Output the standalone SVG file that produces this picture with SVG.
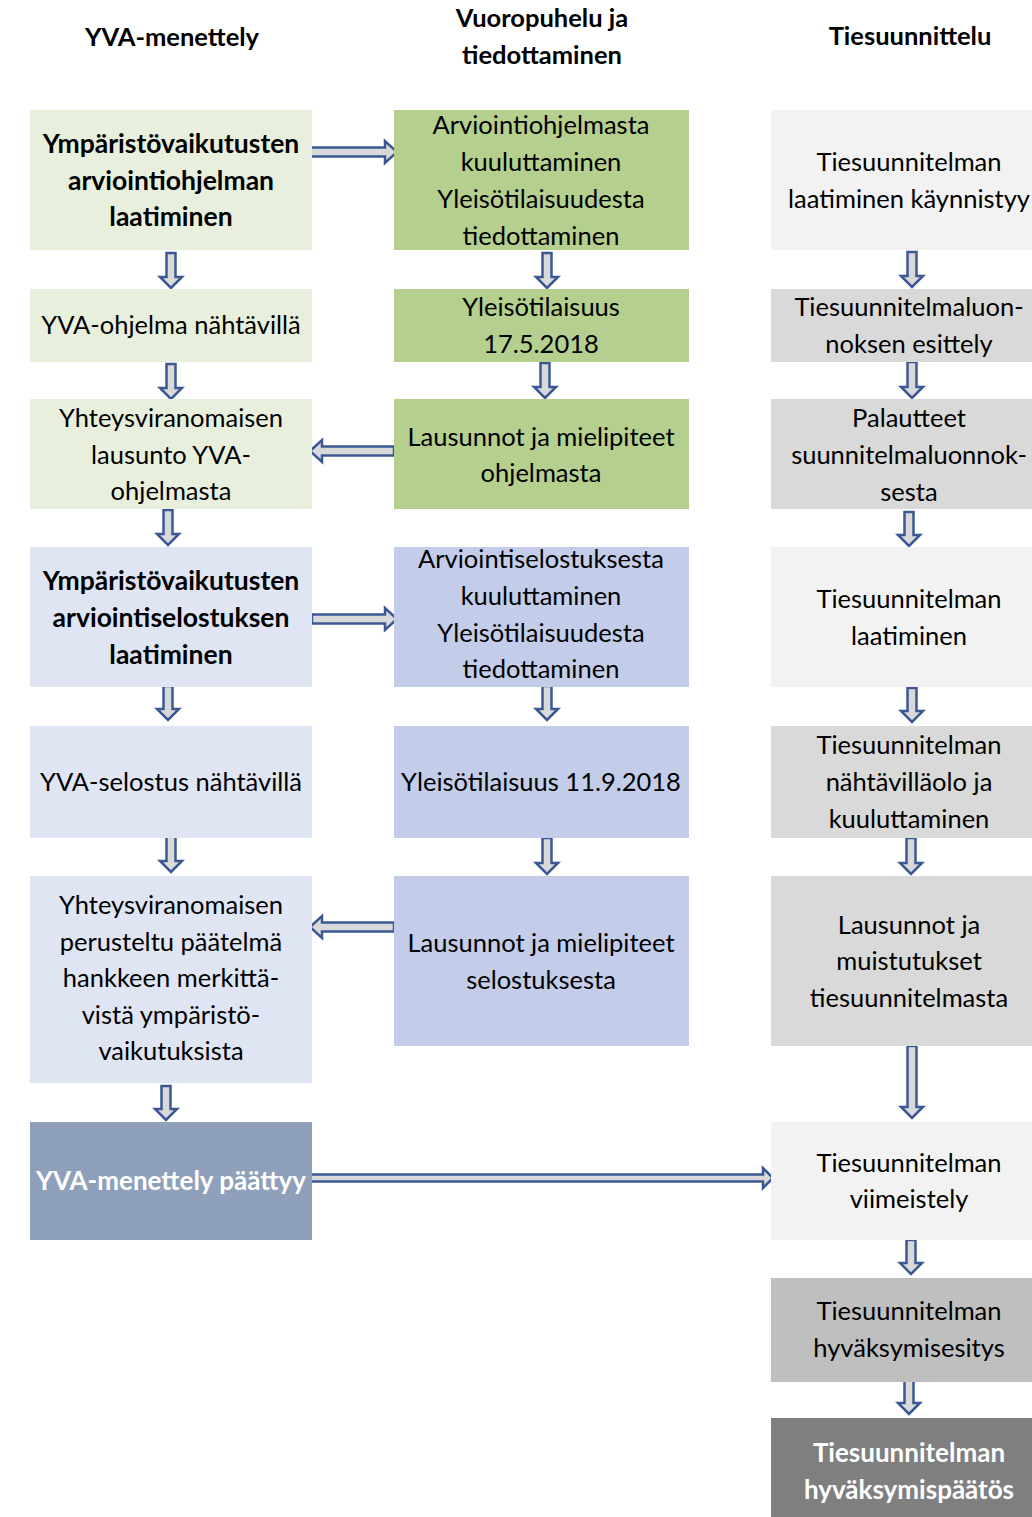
<svg xmlns="http://www.w3.org/2000/svg" width="1032" height="1517" viewBox="0 0 1032 1517">
<style>
text{font-family:Lato,"Liberation Sans",sans-serif;font-size:25.5px;fill:#000;text-anchor:middle;dominant-baseline:central}
.b{font-weight:bold;font-size:26.5px}
.w{fill:#fff;font-weight:bold;font-size:26px}
.h{font-weight:bold;font-size:25.5px}
.arr{fill:#d9d9d9;stroke:#3b5894;stroke-width:2.5;stroke-linejoin:miter}
.g1{fill:#e8f0dd}.g2{fill:#b5cf8e}.b1{fill:#dfe5f3}.b2{fill:#c3cde9}.b3{fill:#8fa0ba}
.s1{fill:#f2f2f2}.s2{fill:#d9d9d9}.s3{fill:#bfbfbf}.s4{fill:#7f7f7f}
</style>
<rect width="1032" height="1517" fill="#fff"/>
<g id="headers">
<text class="h" x="172" y="36">YVA-menettely</text>
<text class="h" x="542" y="17">Vuoropuhelu ja</text>
<text class="h" x="542" y="54">tiedottaminen</text>
<text class="h" x="910" y="35">Tiesuunnittelu</text>
</g>
<g id="connectors">
<path class="arr" d="M166.5,253 H175.5 V277 H182 L171,288 L160,277 H166.5Z"/>
<path class="arr" d="M166.5,364 H175.5 V388 H182 L171,399 L160,388 H166.5Z"/>
<path class="arr" d="M163.5,510 H172.5 V534 H179 L168,545 L157,534 H163.5Z"/>
<path class="arr" d="M163.5,686 H172.5 V709 H179 L168,720 L157,709 H163.5Z"/>
<path class="arr" d="M166.5,836 H175.5 V861 H182 L171,872 L160,861 H166.5Z"/>
<path class="arr" d="M161.5,1086 H170.5 V1109 H177 L166,1120 L155,1109 H161.5Z"/>
<path class="arr" d="M542.5,253 H551.5 V277 H558 L547,288 L536,277 H542.5Z"/>
<path class="arr" d="M540.5,363 H549.5 V387 H556 L545,398 L534,387 H540.5Z"/>
<path class="arr" d="M542.5,686 H551.5 V709 H558 L547,720 L536,709 H542.5Z"/>
<path class="arr" d="M542.5,838 H551.5 V863 H558 L547,874 L536,863 H542.5Z"/>
<path class="arr" d="M907.5,252 H916.5 V276 H923 L912,287 L901,276 H907.5Z"/>
<path class="arr" d="M907.5,362 H916.5 V387 H923 L912,398 L901,387 H907.5Z"/>
<path class="arr" d="M904.5,512 H913.5 V535 H920 L909,546 L898,535 H904.5Z"/>
<path class="arr" d="M907.5,688 H916.5 V711 H923 L912,722 L901,711 H907.5Z"/>
<path class="arr" d="M906.5,838 H915.5 V863 H922 L911,874 L900,863 H906.5Z"/>
<path class="arr" d="M907.5,1046 H916.5 V1107 H923 L912,1118 L901,1107 H907.5Z"/>
<path class="arr" d="M906.5,1240 H915.5 V1263 H922 L911,1274 L900,1263 H906.5Z"/>
<path class="arr" d="M904.5,1380 H913.5 V1403 H920 L909,1414 L898,1403 H904.5Z"/>
<path class="arr" d="M310,147.5 H385 V141 L397,152 L385,163 V156.5 H310 Z"/>
<path class="arr" d="M394,446.5 H322 V440 L310,451 L322,462 V455.5 H394 Z"/>
<path class="arr" d="M312,614.5 H385 V608 L397,619 L385,630 V623.5 H312 Z"/>
<path class="arr" d="M394,922.5 H322 V916 L310,927 L322,938 V931.5 H394 Z"/>
<path class="arr" d="M310,1174.5 H763 V1168 L773,1178 L763,1188 V1181.5 H310 Z"/>
</g>
<g id="n1"><rect class="g1" x="30" y="110" width="282" height="140"/>
<text class="b" x="171" y="143">Ympäristövaikutusten</text><text class="b" x="171" y="180">arviointiohjelman</text><text class="b" x="171" y="216">laatiminen</text></g>
<g id="n2"><rect class="g1" x="30" y="289" width="282" height="73"/>
<text x="171" y="324">YVA-ohjelma nähtävillä</text></g>
<g id="n3"><rect class="g1" x="30" y="399" width="282" height="110"/>
<text x="171" y="417">Yhteysviranomaisen</text><text x="171" y="454">lausunto YVA-</text><text x="171" y="490">ohjelmasta</text></g>
<g id="n4"><rect class="b1" x="30" y="547" width="282" height="140"/>
<text class="b" x="171" y="580">Ympäristövaikutusten</text><text class="b" x="171" y="617">arviointiselostuksen</text><text class="b" x="171" y="654">laatiminen</text></g>
<g id="n5"><rect class="b1" x="30" y="726" width="282" height="112"/>
<text x="171" y="781">YVA-selostus nähtävillä</text></g>
<g id="n6"><rect class="b1" x="30" y="876" width="282" height="207"/>
<text x="171" y="904">Yhteysviranomaisen</text><text x="171" y="941">perusteltu päätelmä</text><text x="171" y="977">hankkeen merkittä-</text><text x="171" y="1014">vistä ympäristö-</text><text x="171" y="1050">vaikutuksista</text></g>
<g id="n7"><rect class="b3" x="30" y="1122" width="282" height="118"/>
<text class="w" x="171" y="1180">YVA-menettely päättyy</text></g>
<g id="m1"><rect class="g2" x="394" y="110" width="295" height="140"/>
<text x="541" y="124">Arviointiohjelmasta</text><text x="541" y="161">kuuluttaminen</text><text x="541" y="198">Yleisötilaisuudesta</text><text x="541" y="235">tiedottaminen</text></g>
<g id="m2"><rect class="g2" x="394" y="289" width="295" height="73"/>
<text x="541" y="306">Yleisötilaisuus</text><text x="541" y="343">17.5.2018</text></g>
<g id="m3"><rect class="g2" x="394" y="399" width="295" height="110"/>
<text x="541" y="436">Lausunnot ja mielipiteet</text><text x="541" y="472">ohjelmasta</text></g>
<g id="m4"><rect class="b2" x="394" y="547" width="295" height="140"/>
<text x="541" y="558">Arviointiselostuksesta</text><text x="541" y="595">kuuluttaminen</text><text x="541" y="632">Yleisötilaisuudesta</text><text x="541" y="668">tiedottaminen</text></g>
<g id="m5"><rect class="b2" x="394" y="726" width="295" height="112"/>
<text x="541" y="781">Yleisötilaisuus 11.9.2018</text></g>
<g id="m6"><rect class="b2" x="394" y="876" width="295" height="170"/>
<text x="541" y="942">Lausunnot ja mielipiteet</text><text x="541" y="979">selostuksesta</text></g>
<g id="t1"><rect class="s1" x="771" y="110" width="261" height="140"/>
<text x="909" y="161">Tiesuunnitelman</text><text x="909" y="198">laatiminen käynnistyy</text></g>
<g id="t2"><rect class="s2" x="771" y="289" width="261" height="73"/>
<text x="909" y="306">Tiesuunnitelmaluon-</text><text x="909" y="343">noksen esittely</text></g>
<g id="t3"><rect class="s2" x="771" y="399" width="261" height="110"/>
<text x="909" y="417">Palautteet</text><text x="909" y="454">suunnitelmaluonnok-</text><text x="909" y="491">sesta</text></g>
<g id="t4"><rect class="s1" x="771" y="547" width="261" height="140"/>
<text x="909" y="598">Tiesuunnitelman</text><text x="909" y="635">laatiminen</text></g>
<g id="t5"><rect class="s2" x="771" y="726" width="261" height="112"/>
<text x="909" y="744">Tiesuunnitelman</text><text x="909" y="781">nähtävilläolo ja</text><text x="909" y="818">kuuluttaminen</text></g>
<g id="t6"><rect class="s2" x="771" y="876" width="261" height="170"/>
<text x="909" y="924">Lausunnot ja</text><text x="909" y="960">muistutukset</text><text x="909" y="997">tiesuunnitelmasta</text></g>
<g id="t7"><rect class="s1" x="771" y="1122" width="261" height="118"/>
<text x="909" y="1162">Tiesuunnitelman</text><text x="909" y="1198">viimeistely</text></g>
<g id="t8"><rect class="s3" x="771" y="1278" width="261" height="104"/>
<text x="909" y="1310">Tiesuunnitelman</text><text x="909" y="1347">hyväksymisesitys</text></g>
<g id="t9"><rect class="s4" x="771" y="1418" width="261" height="99"/>
<text class="w" x="909" y="1452">Tiesuunnitelman</text><text class="w" x="909" y="1489">hyväksymispäätös</text></g>
</svg>
